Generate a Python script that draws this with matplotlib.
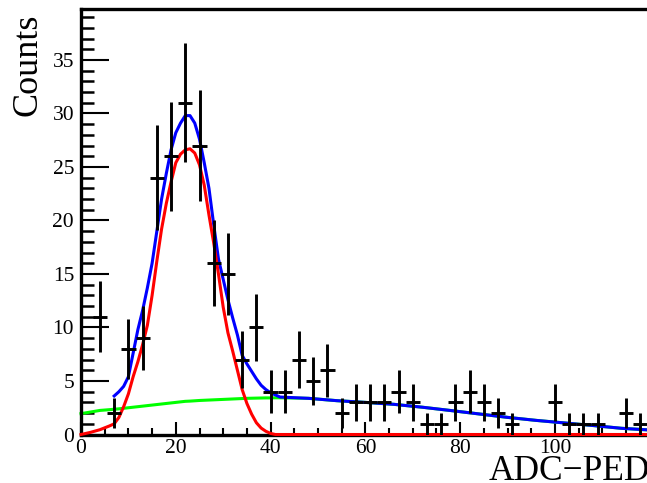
import numpy as np
import matplotlib.pyplot as plt
from matplotlib.ticker import MultipleLocator

plt.rcParams['font.family'] = ['Liberation Serif', 'DejaVu Serif']

# ---------------------------------------------------------------
# Histograma (bins de 3 canales) y funciones de ajuste
# ---------------------------------------------------------------
bin_center = [1, 4, 7, 10, 13, 16, 19, 22, 25, 28, 31, 34, 37, 40, 43, 46, 49, 52, 55, 58,
              61, 64, 67, 70, 73, 76, 79, 82, 85, 88, 91, 94, 97, 100, 103, 106, 109, 112, 115, 118]
counts = [0, 11, 2, 8, 9, 24, 26, 31, 27, 16, 15, 7, 10, 4, 4, 7, 5, 6, 2, 3,
          3, 3, 4, 3, 1, 1, 3, 4, 3, 2, 1, 0, 0, 3, 1, 1, 1, 0, 2, 1]
bin_half_width = 1.5

fit_x = [0, 2, 4, 6, 7, 8, 9, 10, 11, 12, 13, 14, 15, 16, 17, 18, 19, 20, 21, 22,
         23, 24, 25, 26, 27, 28, 29, 30, 31, 32, 33, 34, 35, 36, 37, 38, 39, 40, 41, 42,
         48, 54, 60, 66, 72, 78, 84, 90, 96, 102, 108, 114, 120]
gauss_y = [0, 0.2, 0.45, 0.8, 1.0, 1.6, 2.6, 3.8, 5.4, 6.8, 8.4, 10.2, 13.0, 16.2, 19.2, 21.6, 23.6, 25.4, 26.2, 26.6,
           26.7, 26.3, 25.2, 23.3, 20.5, 17.9, 15.0, 11.9, 9.5, 7.8, 6.0, 4.2, 2.9, 1.9, 1.1, 0.6, 0.3, 0.1, 0, 0,
           0, 0, 0, 0, 0, 0, 0, 0, 0, 0, 0, 0, 0]
bkg_y = [1.95, 2.1, 2.25, 2.32, 2.36, 2.4, 2.45, 2.5, 2.55, 2.6, 2.65, 2.7, 2.75, 2.8, 2.85, 2.9, 2.95, 3.0, 3.05, 3.1,
         3.12, 3.15, 3.18, 3.2, 3.22, 3.24, 3.26, 3.28, 3.3, 3.32, 3.34, 3.36, 3.38, 3.39, 3.4, 3.41, 3.42, 3.42, 3.43, 3.43,
         3.38, 3.16, 3.0, 2.82, 2.55, 2.24, 1.92, 1.6, 1.32, 1.08, 0.84, 0.58, 0.42]
total_y = [np.nan, np.nan, np.nan, np.nan, 3.6, 4.0, 4.5, 5.4, 7.6, 9.8, 11.6, 13.7, 16.0, 19.0, 22.0, 24.4, 26.6, 28.2, 29.1, 29.8,
           29.8, 29.1, 27.6, 25.4, 23.0, 19.6, 16.4, 14.5, 12.6, 10.9, 9.3, 7.4, 6.6, 5.9, 5.2, 4.6, 4.2, 3.9, 3.7, 3.5,
           3.38, 3.16, 3.0, 2.82, 2.55, 2.24, 1.92, 1.6, 1.32, 1.08, 0.84, 0.58, 0.42]

x = np.array(bin_center, dtype=float)
n = np.array(counts, dtype=float)
filled = n > 0

# ---------------------------------------------------------------
# Figura
# ---------------------------------------------------------------
fig = plt.figure(figsize=(6.47, 4.83), dpi=100)
ax = fig.add_axes([81 / 647, 48.5 / 483, 568.8 / 647, 425.9 / 483])

ax.plot(fit_x, bkg_y, color='#00ff00', lw=2.2, zorder=2, clip_on=False)
ax.plot(fit_x, total_y, color='#0000ff', lw=2.2, zorder=3, clip_on=False)
ax.plot(fit_x, gauss_y, color='#ff0000', lw=2.2, zorder=4, clip_on=False)

ax.errorbar(x[filled], n[filled], xerr=bin_half_width, yerr=np.sqrt(n[filled]),
            fmt='none', ecolor='black', elinewidth=2.1, capsize=0, zorder=5)

ax.set_xlim(0, 120)
ax.set_ylim(0, 39.8)

ax.set_xticks([0, 20, 40, 60, 80, 100])
ax.xaxis.set_minor_locator(MultipleLocator(5))
ax.set_yticks(range(0, 40, 5))
ax.yaxis.set_minor_locator(MultipleLocator(1))

ax.tick_params(axis='both', which='both', direction='in', labelsize=15.5, color='black')
ax.tick_params(axis='y', which='major', length=20, width=1.5, pad=5)
ax.tick_params(axis='y', which='minor', length=9.5, width=1.8)
ax.tick_params(axis='x', which='major', length=9.4, width=1.5, pad=3)
ax.tick_params(axis='x', which='minor', length=5, width=1.5)

ax.spines['right'].set_visible(False)
for side in ['left', 'top', 'bottom']:
    ax.spines[side].set_linewidth(2.4)

fig.text(28 / 647, 1 - 14 / 483, 'Counts', rotation=90, ha='center', va='top', fontsize=26)
fig.text(650 / 647, 1 - 480 / 483, 'ADC\u2212PED', ha='right', va='baseline', fontsize=25.5)

fig.savefig('out.png', dpi=100)
